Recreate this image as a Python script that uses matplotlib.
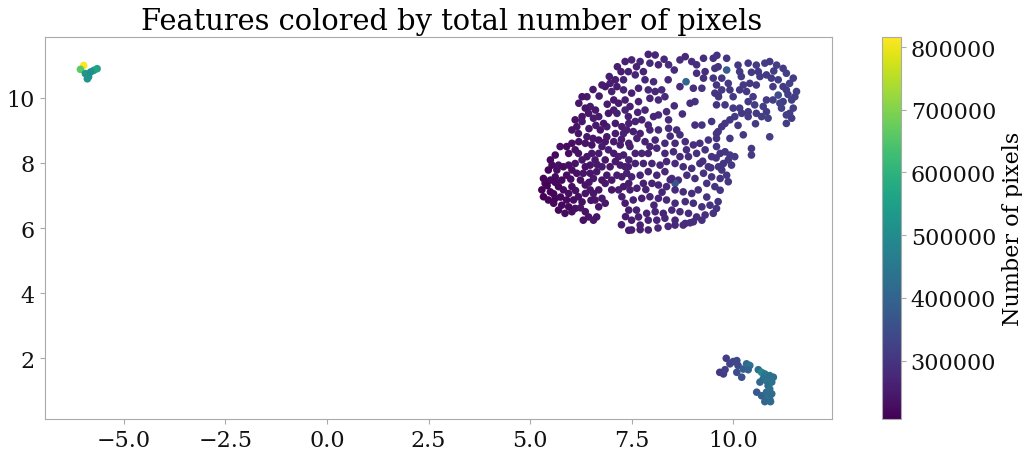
import matplotlib
matplotlib.use('Agg')
import matplotlib.pyplot as plt

plt.rcParams['font.family'] = 'DejaVu Serif'
plt.rcParams['font.size'] = 16

# points as (umap x, umap y, number of pixels / 1000)
west_pts = [
    (-5.99, 10.99, 816), (-6.07, 10.87, 660), (-5.95, 10.74, 530), (-5.87, 10.64, 515),
    (-5.74, 10.84, 545), (-5.66, 10.89, 560), (-5.82, 10.79, 505), (-5.90, 10.58, 520),
]

east_pts = [
    (9.83, 2.00, 318), (9.67, 1.57, 305), (9.76, 1.52, 312), (9.80, 1.65, 322), (9.92, 1.83, 330),
    (10.00, 1.90, 335), (10.09, 1.93, 341), (10.12, 1.78, 338), (10.09, 1.57, 348), (10.21, 1.42, 360),
    (10.25, 1.67, 385), (10.33, 1.83, 415), (10.41, 1.78, 440), (10.37, 1.65, 400), (10.62, 1.65, 425),
    (10.70, 1.57, 490), (10.78, 1.52, 450), (10.74, 1.37, 430), (10.66, 1.27, 410), (10.82, 1.31, 440),
    (10.90, 1.47, 435), (10.99, 1.42, 428), (10.86, 1.16, 420), (10.58, 0.96, 375), (10.70, 0.85, 390),
    (10.82, 0.96, 415), (10.90, 1.06, 432), (10.90, 0.75, 418), (10.78, 0.67, 405), (10.92, 0.67, 412),
    (10.86, 0.85, 425), (10.95, 0.91, 420), (10.95, 1.27, 436),
]

main_pts = [
    # left part
    (7.34, 11.11, 262), (7.24, 10.80, 258), (7.30, 10.55, 265), (7.10, 10.55, 255), (7.14, 10.34, 251),
    (6.97, 10.44, 257), (6.85, 10.34, 249), (6.77, 10.39, 253), (7.01, 10.19, 260), (7.06, 9.93, 247),
    (7.30, 10.24, 268), (7.34, 9.93, 259), (7.18, 9.83, 252), (7.06, 9.62, 256), (6.93, 9.52, 244),
    (7.14, 9.52, 261), (7.34, 9.62, 266), (7.43, 9.21, 258), (7.26, 9.11, 250), (7.10, 9.21, 246),
    (6.89, 9.11, 254), (6.81, 9.21, 241), (6.69, 9.42, 248), (6.61, 9.62, 243), (6.48, 9.73, 250),
    (6.40, 10.03, 246), (6.28, 10.03, 238), (6.20, 9.83, 242), (6.36, 9.68, 236), (6.44, 9.52, 244),
    (6.28, 9.42, 239), (6.11, 9.32, 233), (6.28, 9.27, 247), (6.56, 9.37, 251), (6.73, 9.01, 245),
    (6.89, 8.80, 249), (7.10, 8.90, 256), (7.30, 8.90, 263), (7.43, 8.60, 259), (7.22, 8.55, 252),
    (7.06, 8.65, 248), (6.85, 8.65, 243), (6.69, 8.70, 240), (6.52, 8.55, 237), (6.36, 8.60, 241),
    (6.20, 8.65, 234), (6.03, 8.60, 230), (5.90, 8.50, 226), (5.74, 8.50, 229), (5.62, 8.24, 222),
    (5.50, 8.09, 219), (5.54, 7.93, 225), (5.45, 7.78, 216), (5.33, 7.52, 212), (5.37, 7.37, 218),
    (5.29, 7.17, 210), (5.33, 6.96, 207), (5.45, 6.86, 214), (5.58, 6.76, 220), (5.70, 6.55, 217),
    (5.86, 6.45, 224), (6.03, 6.50, 228), (6.11, 6.60, 231), (6.36, 6.50, 236), (6.44, 6.34, 240),
    (6.56, 6.24, 245), (6.64, 6.34, 238), (6.31, 6.24, 233), (6.24, 6.62, 242), (5.95, 6.65, 223),
    (5.78, 6.70, 219), (5.62, 6.91, 215), (5.50, 7.11, 213), (5.50, 7.47, 220), (5.62, 7.57, 224),
    (5.66, 7.78, 227), (5.70, 7.93, 231), (5.82, 7.88, 226), (5.95, 7.93, 233), (5.90, 7.62, 228),
    (5.78, 7.47, 221), (5.70, 7.27, 218), (5.82, 7.17, 225), (5.95, 7.06, 229), (6.03, 7.27, 232),
    (5.90, 6.86, 222), (6.07, 6.86, 227), (6.19, 6.96, 234), (6.36, 7.06, 238), (6.48, 7.17, 243),
    (6.36, 7.32, 236), (6.24, 7.47, 231), (6.15, 7.68, 235), (6.03, 7.78, 229), (6.11, 7.98, 237),
    (6.28, 8.09, 241), (6.40, 8.19, 239), (6.52, 8.29, 246), (6.60, 8.09, 244), (6.48, 7.93, 240),
    (6.36, 7.88, 235), (6.31, 7.68, 242), (6.48, 7.68, 238), (6.56, 7.52, 247), (6.64, 7.73, 243),
    (6.77, 7.88, 250), (6.85, 8.09, 246), (6.69, 8.29, 252), (6.77, 8.50, 248), (6.93, 8.40, 255),
    (7.06, 8.29, 251), (7.18, 8.19, 258), (7.30, 8.24, 254), (7.43, 8.09, 262), (7.34, 7.88, 257),
    (7.22, 7.93, 253), (7.10, 8.04, 249), (6.97, 7.88, 245), (6.89, 7.62, 251), (7.01, 7.47, 247),
    (7.14, 7.62, 256), (7.26, 7.57, 252), (7.38, 7.68, 260), (7.43, 7.37, 256), (7.30, 7.27, 249),
    (7.18, 7.17, 253), (7.01, 7.17, 244), (6.85, 7.37, 248), (6.77, 7.47, 242), (6.69, 7.17, 239),
    (6.56, 7.06, 245), (6.60, 6.86, 241), (6.77, 6.91, 247), (6.85, 6.76, 243), (6.69, 6.65, 238),
    (7.26, 6.96, 255), (7.34, 6.76, 250), (7.43, 6.55, 258), (7.43, 5.93, 253), (6.11, 8.40, 232),
    (6.19, 8.29, 236), (5.95, 8.29, 228), (6.40, 8.80, 244), (6.19, 8.90, 237), (6.03, 9.01, 235),
    (6.15, 9.11, 240), (5.42, 7.30, 211), (5.58, 7.05, 216), (5.75, 6.95, 220), (5.62, 7.40, 219),
    (6.00, 7.50, 230), (6.12, 7.15, 233), (6.28, 6.80, 235), (6.50, 6.85, 240), (6.45, 7.40, 241),
    (6.65, 7.95, 246), (6.55, 8.75, 243), (6.45, 9.05, 246), (6.62, 9.15, 248), (6.90, 9.80, 252),
    (6.70, 10.05, 250), (6.55, 10.25, 248), (6.95, 10.65, 256), (7.15, 10.95, 260),
    # middle part
    (7.50, 11.16, 268), (7.71, 11.11, 272), (7.91, 11.33, 265), (8.08, 11.31, 270), (7.95, 11.06, 276),
    (8.16, 11.01, 269), (8.41, 11.01, 281), (8.69, 11.16, 284), (8.82, 11.26, 278), (8.98, 11.11, 289),
    (9.10, 11.01, 292), (9.27, 11.21, 286), (9.51, 11.21, 295), (9.55, 10.90, 299), (9.31, 10.80, 290),
    (9.10, 10.75, 287), (9.27, 10.60, 294), (9.51, 10.60, 301), (8.84, 10.49, 405), (8.69, 10.34, 283),
    (9.02, 10.29, 290), (9.23, 10.29, 296), (9.55, 10.14, 298), (9.64, 10.03, 304), (7.42, 10.80, 263),
    (7.59, 10.70, 270), (7.79, 10.80, 267), (7.83, 10.55, 273), (8.04, 10.49, 279), (7.67, 10.29, 266),
    (7.50, 10.14, 261), (7.91, 10.24, 275), (8.08, 10.19, 271), (8.24, 10.24, 280), (7.95, 9.98, 268),
    (8.16, 9.93, 277), (8.32, 10.03, 282), (7.67, 9.88, 264), (7.46, 9.73, 259), (7.83, 9.62, 269),
    (9.06, 9.88, 293), (8.94, 9.83, 288), (8.36, 9.57, 279), (8.16, 9.47, 274), (8.04, 9.42, 270),
    (7.75, 9.32, 265), (7.59, 9.27, 262), (7.42, 9.42, 258), (8.41, 9.32, 281), (7.91, 9.16, 268),
    (7.95, 9.01, 272), (7.71, 8.90, 263), (7.54, 8.96, 260), (7.38, 9.01, 257), (8.16, 9.01, 276),
    (8.41, 9.06, 283), (8.61, 9.01, 280), (8.69, 8.86, 286), (9.06, 9.16, 291), (9.23, 9.16, 297),
    (9.47, 9.27, 302), (9.59, 8.90, 299), (9.39, 8.70, 294), (9.18, 8.60, 289), (9.02, 8.55, 285),
    (8.82, 8.65, 287), (8.57, 8.60, 279), (8.32, 8.60, 275), (8.08, 8.70, 271), (7.83, 8.65, 266),
    (7.63, 8.75, 262), (7.46, 8.50, 258), (7.59, 8.29, 263), (7.75, 8.29, 267), (7.91, 8.29, 264),
    (8.12, 8.45, 273), (8.32, 8.29, 277), (8.53, 8.34, 282), (8.69, 8.19, 279), (8.90, 8.19, 286),
    (9.10, 8.29, 290), (9.31, 8.40, 295), (9.47, 8.19, 298), (9.59, 8.50, 303), (9.64, 7.88, 300),
    (9.39, 7.88, 296), (9.18, 7.98, 291), (8.98, 7.83, 287), (8.77, 7.88, 283), (8.57, 7.98, 280),
    (8.36, 8.04, 276), (8.20, 7.93, 272), (8.00, 7.98, 269), (7.79, 7.98, 265), (7.59, 7.98, 261),
    (7.42, 7.88, 259), (7.50, 7.57, 262), (7.71, 7.62, 266), (7.91, 7.73, 268), (8.12, 7.62, 273),
    (8.32, 7.73, 277), (8.49, 7.52, 281), (8.65, 7.47, 284), (8.57, 7.37, 372), (8.86, 7.62, 288),
    (9.06, 7.52, 292), (9.27, 7.68, 296), (9.47, 7.57, 299), (9.35, 7.37, 294), (9.55, 7.27, 301),
    (9.14, 7.17, 290), (8.98, 7.06, 286), (8.77, 7.11, 283), (8.57, 7.17, 279), (8.36, 7.27, 276),
    (8.16, 7.32, 272), (8.00, 7.37, 268), (7.79, 7.37, 264), (7.63, 7.22, 261), (7.46, 7.17, 258),
    (7.54, 6.86, 260), (7.75, 6.91, 264), (7.95, 6.96, 267), (8.16, 6.91, 271), (8.36, 6.86, 275),
    (8.57, 6.76, 279), (8.82, 6.81, 283), (9.02, 6.76, 287), (9.23, 6.65, 291), (9.43, 6.70, 295),
    (9.59, 6.60, 298), (9.51, 6.45, 294), (9.31, 6.40, 290), (9.10, 6.34, 286), (8.90, 6.45, 284),
    (8.69, 6.50, 280), (8.49, 6.55, 277), (8.28, 6.45, 273), (8.08, 6.50, 270), (7.87, 6.45, 266),
    (7.67, 6.34, 262), (7.50, 6.24, 259), (7.71, 6.09, 263), (7.91, 6.24, 267), (8.12, 6.24, 270),
    (8.32, 6.30, 274), (8.57, 6.24, 278), (8.82, 6.14, 282), (9.02, 6.19, 285), (9.23, 6.24, 289),
    (7.50, 5.94, 258), (7.71, 5.95, 262), (7.91, 5.94, 265), (8.57, 6.09, 277), (8.77, 6.09, 281),
    (8.94, 6.16, 284), (7.62, 10.95, 268), (8.30, 11.18, 275), (8.55, 10.85, 280), (8.40, 10.55, 278),
    (8.55, 9.75, 281), (8.75, 9.50, 285), (7.65, 9.55, 265), (7.25, 8.72, 256), (7.95, 8.50, 268),
    (8.45, 8.82, 279), (8.85, 8.40, 286), (9.25, 8.05, 292), (7.85, 7.18, 266), (8.25, 7.10, 273),
    (8.45, 7.48, 277), (9.35, 6.95, 294), (8.05, 6.70, 269), (7.62, 6.55, 262), (7.35, 6.35, 256),
    (7.25, 6.10, 254), (8.40, 6.05, 275), (8.15, 6.00, 270), (9.45, 7.85, 297), (9.58, 8.15, 299),
    # right part
    (9.84, 11.21, 301), (9.84, 10.85, 385), (10.12, 11.00, 306), (10.16, 10.80, 310), (10.37, 11.06, 304),
    (10.57, 11.00, 312), (10.62, 10.80, 308), (10.78, 11.06, 315), (10.90, 11.11, 311), (11.07, 11.00, 318),
    (11.23, 10.90, 314), (11.31, 10.75, 320), (11.48, 10.60, 316), (11.39, 10.44, 322), (11.56, 10.19, 319),
    (11.44, 9.93, 325), (11.48, 9.68, 317), (11.39, 9.52, 321), (11.44, 9.37, 314), (11.31, 9.47, 318),
    (11.19, 9.68, 323), (11.23, 9.88, 316), (11.11, 10.08, 352), (10.98, 10.34, 313), (11.11, 10.55, 319),
    (10.94, 10.60, 311), (10.82, 10.70, 307), (10.66, 10.65, 314), (10.57, 10.39, 309), (10.41, 10.44, 305),
    (10.25, 10.39, 311), (10.16, 10.24, 303), (10.33, 10.19, 308), (10.49, 10.03, 312), (10.37, 9.88, 306),
    (10.53, 9.78, 315), (10.74, 9.73, 318), (10.82, 9.57, 312), (10.86, 9.37, 320), (10.70, 9.42, 316),
    (10.57, 9.52, 309), (10.37, 9.57, 313), (10.21, 9.52, 304), (10.04, 9.42, 308), (9.92, 9.32, 301),
    (9.80, 9.21, 305), (9.72, 9.11, 298), (9.63, 8.96, 302), (9.59, 8.75, 299), (9.92, 8.75, 306),
    (10.25, 8.86, 311), (10.45, 8.44, 309), (10.45, 8.24, 313), (10.90, 8.80, 317), (9.80, 8.34, 303),
    (9.68, 8.29, 300), (9.92, 8.24, 307), (10.04, 8.19, 310), (9.88, 8.09, 304), (9.76, 7.98, 301),
    (9.96, 7.93, 306), (9.72, 7.78, 302), (9.84, 7.62, 305), (9.68, 7.52, 299), (9.88, 7.42, 303),
    (9.68, 7.16, 300), (9.63, 6.81, 297), (9.60, 11.30, 298), (9.63, 10.95, 302), (9.72, 10.60, 305),
    (9.88, 10.44, 309), (9.92, 10.24, 304), (9.63, 10.08, 300), (9.59, 9.78, 297), (9.80, 9.78, 303),
    (10.00, 9.68, 307), (10.16, 9.68, 310), (10.37, 9.42, 312), (9.59, 10.39, 301), (9.72, 10.24, 306),
    (10.00, 10.03, 308), (10.82, 9.93, 314), (10.98, 9.93, 319), (11.15, 9.83, 322), (11.31, 10.24, 317),
    (11.23, 10.34, 313), (11.52, 10.03, 321), (11.31, 9.21, 315), (10.12, 9.15, 306), (10.55, 9.20, 311),
    (10.20, 10.65, 308), (10.45, 10.78, 310), (11.00, 10.82, 315), (11.35, 10.10, 318),
]

pts = main_pts + east_pts + west_pts
xs = [p[0] for p in pts]
ys = [p[1] for p in pts]
npix = [p[2] * 1000 for p in pts]

fig = plt.figure(figsize=(10.22, 4.52), dpi=100)
ax = fig.add_axes([0.0437, 0.0708, 0.7707, 0.8451])
cax = fig.add_axes([0.8627, 0.0708, 0.0189, 0.8451])

sc = ax.scatter(xs, ys, c=npix, cmap='viridis', s=30, linewidths=0)
ax.set_title('Features colored by total number of pixels', fontsize=20.8, x=0.517)

for a in (ax, cax):
    for sp in a.spines.values():
        sp.set_color('#aaaaaa')
    a.tick_params(color='#aaaaaa', labelcolor='#111111')

cb = fig.colorbar(sc, cax=cax)
cb.outline.set_edgecolor('#aaaaaa')
cb.set_label('Number of pixels', fontsize=16)

fig.savefig('out.png', dpi=100)
